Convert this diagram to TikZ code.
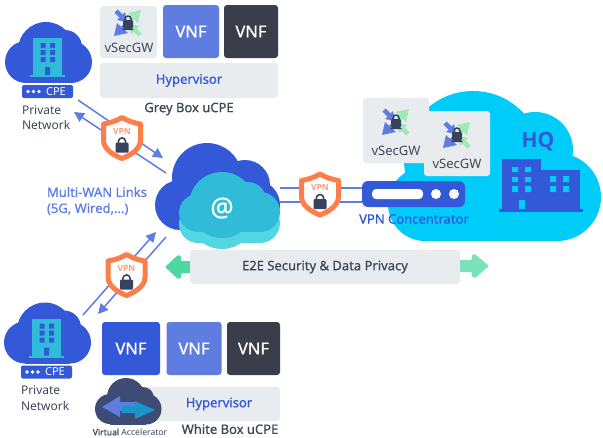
\documentclass[tikz,border=0pt]{standalone}
\usepackage{fontspec}
\setmainfont{Noto Sans}
\newfontfamily\medfont[FakeBold=0.7]{Noto Sans}
\newfontfamily\heavyfont{Open Sans}
\usetikzlibrary{arrows.meta}
\definecolor{royal}{HTML}{3358D8}
\definecolor{midblue}{HTML}{5F7DE1}
\definecolor{slatebox}{HTML}{3A3E4A}
\definecolor{panel}{HTML}{E9ECEF}
\definecolor{inktext}{HTML}{3D4859}
\definecolor{teal}{HTML}{30BCD8}
\definecolor{lightteal}{HTML}{52D7E2}
\definecolor{sky}{HTML}{00CCFA}
\definecolor{shieldrim}{HTML}{FF7D48}
\definecolor{shieldtext}{HTML}{FF9C7C}
\definecolor{lockdark}{HTML}{39425C}
\definecolor{mint}{HTML}{4DD7A2}
\definecolor{mintlight}{HTML}{7AE2B8}
\definecolor{palegreen}{HTML}{9FE9B6}
\definecolor{navycloud}{HTML}{3E4B74}
\definecolor{accelblue}{HTML}{1B95C9}
\tikzset{
  x=1pt,y=-1pt,
  panelbox/.style={fill=#1,rounded corners=3pt,inner sep=0pt,outer sep=0pt,text=white,font=\medfont\fontsize{16.5}{18}\selectfont},
  graybox/.style={fill=panel,rounded corners=3pt,inner sep=0pt,outer sep=0pt},
  label/.style={inner sep=0pt,outer sep=0pt,align=center},
  link/.style={draw=midblue,line width=1.5pt},
  arrowlink/.style={link,-{Triangle[length=10pt,width=10pt,fill=midblue]}},
  vsec text/.style={label,text=inktext,font=\fontsize{13}{14}\selectfont},
  head text/.style={label,text=inktext,font=\medfont\fontsize{13}{15}\selectfont},
  blue text/.style={label,text=royal,font=\medfont\fontsize{13}{15}\selectfont},
  side text/.style={label,align=left,text=inktext,font=\fontsize{12}{15}\selectfont},
  % small padlock, centred on its body
  padlock/.pic={
    \draw[lockdark,line width=1.6pt] (-3.6,-2) -- (-3.6,-4) arc[start angle=180,end angle=360,radius=3.6] -- (3.6,-2);
    \fill[lockdark,rounded corners=1pt] (-6.5,-3) rectangle (6.5,7);
  },
  % VPN shield badge
  shieldbadge/.pic={
    \draw[shieldrim,fill=white,line width=5pt,line join=round]
      (0,-20.5) .. controls (-6,-17) and (-12,-15) .. (-18.5,-14) -- (-18.5,2)
      .. controls (-18.5,11) and (-9,17) .. (0,20.5)
      .. controls (9,17) and (18.5,11) .. (18.5,2) -- (18.5,-14)
      .. controls (12,-15) and (6,-17) .. (0,-20.5) -- cycle;
    \node[label,text=shieldtext,font=\heavyfont\bfseries\fontsize{8.5}{9}\selectfont] (-vpn) at (0,-7) {VPN};
    \pic at (0,7.5) {padlock};
  },
  % flat-bottomed cloud with an office block and a CPE tag
  sitecloud/.pic={
    \fill[royal] (26,62) circle[radius=21] (71,62) circle[radius=21]
      (46,50) circle[radius=28] (65,47) circle[radius=17];
    \fill[royal] (26,62) rectangle (71,83);
    \fill[teal] (33,38) rectangle (62,75);
    \fill[teal] (30,75) rectangle (65,77);
    \fill[royal] (40.5,43) rectangle (45.5,48) (50,43) rectangle (55,48)
      (40.5,50) rectangle (45.5,55) (50,50) rectangle (55,55)
      (40.5,57) rectangle (45.5,62) (50,57) rectangle (55,62)
      (45,67) rectangle (50,75);
    \fill[royal,rounded corners=2pt] (22,85) rectangle (73,98);
    \fill[white] (28,91.5) circle[radius=1.9] (33.5,91.5) circle[radius=1.9] (39,91.5) circle[radius=1.9];
    \node[label,text=white,font=\fontsize{11}{12}\selectfont] (-tag) at (56,91.5) {CPE};
    \node[side text,anchor=west] (-name) at (22,110) {Private};
    \node[side text,anchor=west] (-name2) at (22,125) {Network};
  },
  % four diagonal arrows around a padlock
  gatewayicon/.pic={
    \draw[midblue,line width=4.5pt] (-12,-12) -- (-6,-6);
    \fill[midblue] (-1,-1) -- (-11,-3) -- (-3,-11) -- cycle;
    \draw[palegreen,line width=4.5pt] (2,-2) -- (7,-7);
    \fill[palegreen] (13,-13) -- (0,-10) -- (10,0) -- cycle;
    \draw[midblue,line width=4.5pt] (-2,2) -- (-7,7);
    \fill[midblue] (-14,13) -- (-11,0) -- (0,10) -- cycle;
    \draw[palegreen,line width=4.5pt] (12,12) -- (6,6);
    \fill[palegreen] (1,1) -- (11,3) -- (3,11) -- cycle;
    \draw[lockdark,line width=1.5pt] (-3,-2) -- (-3,-4) arc[start angle=180,end angle=360,radius=3] -- (3,-2);
    \fill[lockdark,rounded corners=1pt] (-5,-3) rectangle (5,5);
    \fill[lockdark] (-3,4) -- (3,4) -- (6,7) -- (-6,7) -- cycle;
  }
}
\begin{document}
\begin{tikzpicture}
\useasboundingbox (0,0) rectangle (603,437);
\fill[white] (0,0) rectangle (603,437);

% headquarters cloud and building
\fill[sky] (425,204) circle[radius=37] (473,160) circle[radius=69]
  (535,150) circle[radius=38] (557,197) circle[radius=44];
\fill[sky] (425,195) rectangle (557,241);
\node[label,text=royal,font=\heavyfont\bfseries\fontsize{21}{22}\selectfont] (hq) at (538,142) {HQ};
\fill[royal] (502,159) rectangle (541,210);
\fill[royal] (541,170) rectangle (580,210);
\fill[royal] (499,209) rectangle (583,212);
\fill[sky] (512,167) rectangle (518,172) (525,167) rectangle (531,172)
  (512,177) rectangle (518,182) (525,177) rectangle (531,182)
  (512,186) rectangle (518,192) (525,186) rectangle (531,192)
  (550,176) rectangle (556,182) (563,176) rectangle (569,182)
  (550,186) rectangle (556,192) (563,186) rectangle (569,192)
  (519,200) rectangle (525,209);

% central internet cloud
\fill[royal] (180,205) circle[radius=25] (207,178) circle[radius=35]
  (245,185) circle[radius=25] (255,205) circle[radius=25];
\fill[royal] (180,205) rectangle (255,230);
\fill[lightteal] (198,224) circle[radius=19] (222,216) circle[radius=33]
  (248,211) circle[radius=18] (260,223) circle[radius=20];
\fill[lightteal] (198,223) rectangle (260,243);
\fill[teal] (198,213) circle[radius=19] (222,205) circle[radius=33]
  (248,200) circle[radius=18] (260,212) circle[radius=20];
\fill[teal] (198,212) rectangle (260,232);
\node[label,text=white,font=\medfont\fontsize{26}{28}\selectfont] (at) at (222,208) {@};

% branch sites
\pic (topsite) at (0,0) {sitecloud};
\pic (lowsite) at (-1,280.5) {sitecloud};

% grey box uCPE
\node[graybox,minimum width=57pt,minimum height=52pt] (gw1) at (128.5,32) {};
\pic at (128,23) {gatewayicon};
\node[vsec text] (gw1t) at (129,47.5) {vSecGW};
\node[panelbox=midblue,minimum width=56pt,minimum height=53pt] (vnfa) at (191,31.5) {VNF};
\node[panelbox=slatebox,minimum width=54pt,minimum height=53pt] (vnfb) at (251,31.5) {VNF};
\node[graybox,blue text,minimum width=178pt,minimum height=35pt] (hv1) at (189,80.5) {Hypervisor};
\node[head text] (grey) at (189,109) {Grey Box uCPE};

% links towards the upper site
\coordinate (ua) at (78,100);
\coordinate (ub) at (163,158);
\coordinate (uc) at (166,173);
\coordinate (ud) at (74,112);
\draw[arrowlink] (ua) -- (ub);
\draw[arrowlink] (uc) -- (ud);
\pic (shieldup) at (122,138) {shieldbadge};

% links towards the lower site
\coordinate (la) at (83,315);
\coordinate (lb) at (156,232);
\coordinate (lc) at (166,237);
\coordinate (ld) at (98,314);
\draw[arrowlink] (la) -- (lb);
\draw[arrowlink] (lc) -- (ld);
\pic (shieldlow) at (126.5,275) {shieldbadge};

\node[label,anchor=west,text=midblue,font=\medfont\fontsize{13}{15}\selectfont] (wan1) at (47,192) {Multi-WAN Links};
\node[label,anchor=west,text=midblue,font=\medfont\fontsize{13}{15}\selectfont] (wan2) at (47,209) {(5G, Wired,...)};

% VPN concentrator and its links to the cloud
\node[fill=royal,rounded corners=6pt,inner sep=0pt,outer sep=0pt,minimum width=103pt,minimum height=26pt] (conc) at (413.5,194) {};
\coordinate (ra) at (280,188);
\coordinate (rb) at (conc.west |- ra);
\coordinate (rc) at (280,202);
\coordinate (rd) at (conc.west |- rc);
\draw[link] (ra) -- (rb);
\draw[link] (rc) -- (rd);
\fill[white,rounded corners=4pt] (372,189) rectangle (423,199);
\fill[white] (436,194) circle[radius=5] (454,194) circle[radius=5];
\pic (shieldright) at (320,194.5) {shieldbadge};
\node[blue text] (conct) at (414,219) {VPN Concentrator};

% virtual security gateways at the head office
\node[graybox,minimum width=66pt,minimum height=65pt] (gw2) at (396,130.5) {};
\pic at (396,122) {gatewayicon};
\node[vsec text] (gw2t) at (396,151) {vSecGW};
\node[graybox,minimum width=66pt,minimum height=65pt] (gw3) at (457,143.5) {};
\pic at (457,135) {gatewayicon};
\node[vsec text] (gw3t) at (457,164) {vSecGW};

% end-to-end security band
\fill[mint,rounded corners=1pt] (165,267) -- (178,255) -- (181,256) -- (181,261) -- (191,261) -- (191,273) -- (181,273) -- (181,278) -- (178,279) -- cycle;
\fill[mintlight,rounded corners=1pt] (489,266) -- (475,254) -- (472,255) -- (472,260) -- (459,260) -- (459,272) -- (472,272) -- (472,277) -- (475,278) -- cycle;
\node[graybox,head text,minimum width=270pt,minimum height=34pt] (e2e) at (325,267) {E2E Security \& Data Privacy};

% white box uCPE
\node[panelbox=royal,minimum width=58pt,minimum height=53pt] (vnfc) at (131,348.5) {VNF};
\node[panelbox=midblue,minimum width=55pt,minimum height=53pt] (vnfd) at (194,348.5) {VNF};
\node[panelbox=slatebox,minimum width=53pt,minimum height=53pt] (vnfe) at (253.5,348.5) {VNF};
\node[graybox,minimum width=140pt,minimum height=34pt] (hv2) at (210,404) {};
\node[blue text] (hv2t) at (219,404) {Hypervisor};
\node[head text] (white) at (230,429) {White Box uCPE};

% virtual accelerator cloud
\fill[navycloud] (110,409) circle[radius=15] (126,397) circle[radius=19]
  (143,398) circle[radius=11] (146,409) circle[radius=15.5];
\fill[navycloud] (110,409) rectangle (146,424.5);
\fill[midblue] (102,407) -- (120,396) -- (120,402) -- (135,402) -- (135,411) -- (120,411) -- (120,417) -- cycle;
\fill[accelblue] (155,410) -- (135,401) -- (135,406) -- (122,406) -- (122,413) -- (135,413) -- (135,419) -- cycle;
\node[label,text=inktext,font=\fontsize{8.6}{10}\selectfont] (accel) at (130,432) {{\medfont Virtual} Accelerator};
\end{tikzpicture}
\end{document}
